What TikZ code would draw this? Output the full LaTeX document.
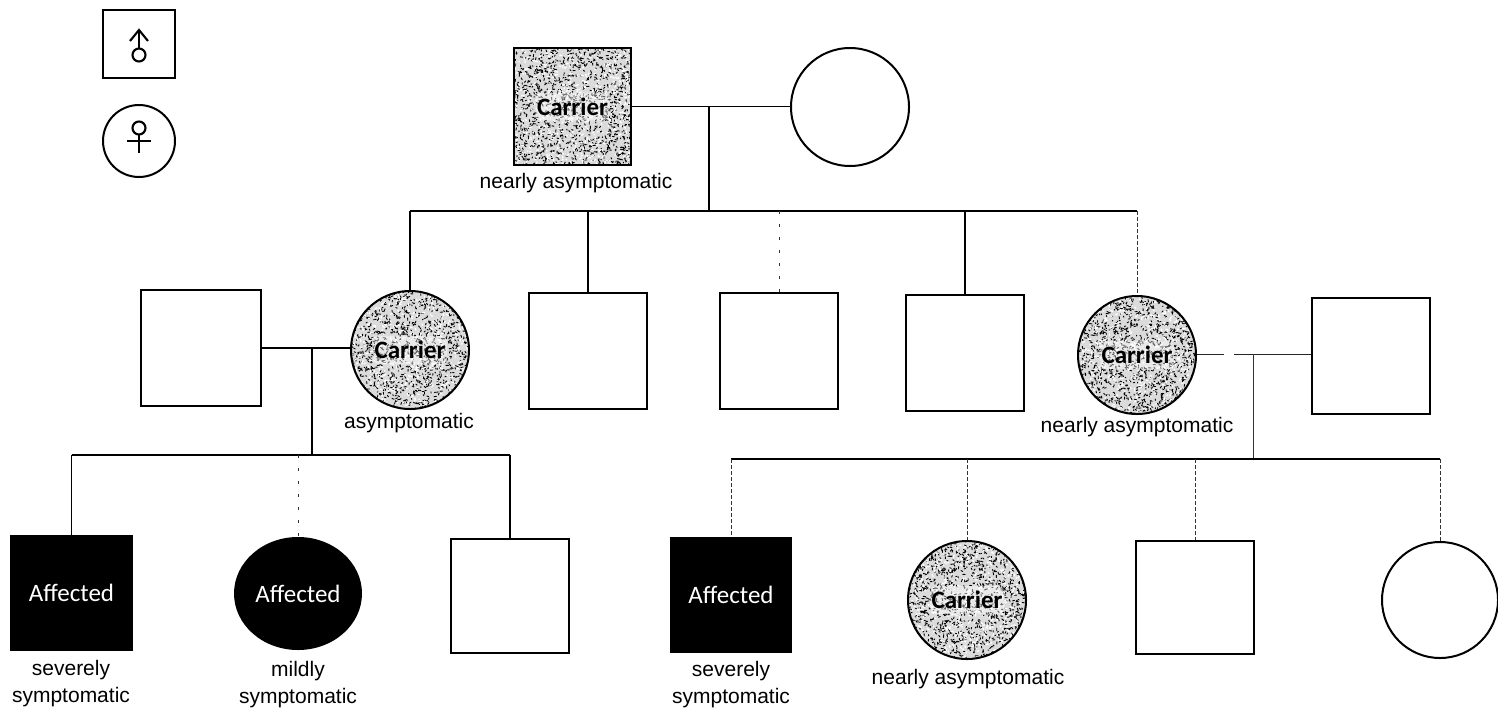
\documentclass[tikz,border=0pt]{standalone}
\usepackage{fontspec}
\setmainfont{Liberation Sans}
\newfontfamily\carlitofont{Carlito}
\usetikzlibrary{shapes.geometric,calc}
\pgfmathsetseed{4711}
\newcommand{\stipplefill}[1]{%
  \fill[black!14] ($(path picture bounding box.center)+(-70,-70)$) rectangle ($(path picture bounding box.center)+(70,70)$);
  \foreach \i in {1,...,#1}{%
    \draw[line width=.9pt,black,line cap=round]
      ($(path picture bounding box.center)+({60*rand},{60*rand})$) -- ++({360*rnd}:{.6+2*rnd});
  }%
  \foreach \i in {1,...,500}{%
    \draw[line width=1.2pt,white,line cap=round]
      ($(path picture bounding box.center)+({60*rand},{60*rand})$) -- ++({360*rnd}:{.6+2*rnd});
  }%
  \fill[white,opacity=.4,rounded corners=6pt] ($(path picture bounding box.center)+(-37,-14)$) rectangle ($(path picture bounding box.center)+(37,14)$);
}
\tikzset{
  x=1pt,y=-1pt,
  sq/.style={draw=black,line width=2pt,rectangle,minimum width=118pt,minimum height=116pt,inner sep=0pt},
  ci/.style={draw=black,line width=2pt,circle,minimum size=118pt,inner sep=0pt},
  carrier/.style={path picture={\stipplefill{1300}},font=\carlitofont\bfseries\fontsize{25}{25}\selectfont},
  affected/.style={fill=black,text=white,font=\carlitofont\fontsize{25}{25}\selectfont},
  lab/.style={font=\fontsize{21}{27}\selectfont,align=center,inner sep=0pt},
  link/.style={draw=black,line width=1.2pt},
  faint/.style={draw=black!80,line width=1pt,dash pattern=on 3.5pt off 2.5pt},
  dotty/.style={draw=black!80,line width=1pt,dash pattern=on 3pt off 10pt},
  glyph/.style={draw=black,line width=2.1pt},
}
\begin{document}
\begin{tikzpicture}
\useasboundingbox (0,0) rectangle (1498,710);
% legend
\node[sq,minimum width=72pt,minimum height=68pt] (legm) at (139,44) {};
\node[ci,minimum size=72pt] (legf) at (139,141) {};
\draw[glyph] ($(legm.center)+(0,11)$) circle (6.5);
\draw[glyph] ($(legm.center)+(0,4.5)$) -- ($(legm.center)+(0,-14)$);
\draw[glyph] ($(legm.center)+(-9,-3)$) -- ($(legm.center)+(0,-14)$) -- ($(legm.center)+(9,-3)$);
\draw[glyph] ($(legf.center)+(0,-13)$) circle (6.5);
\draw[glyph] ($(legf.center)+(0,-6.5)$) -- ($(legf.center)+(0,12)$);
\draw[glyph] ($(legf.center)+(-12,0)$) -- ($(legf.center)+(12,0)$);
% generation I
\node[sq,carrier,minimum width=117pt,minimum height=117pt] (g1m) at (572.5,106.5) {Carrier};
\node[ci] (g1f) at (850,107) {};
\node[lab] (g1l) at (576,183) {nearly asymptomatic};
% generation II
\node[sq,minimum width=120pt] (a) at (201,348) {};
\node[ci,carrier] (b) at (410,350) {Carrier};
\node[sq] (c) at (588,350.5) {};
\node[sq] (d) at (779,351) {};
\node[sq] (e) at (965,353) {};
\node[ci,carrier] (f) at (1137,355) {Carrier};
\node[sq] (g) at (1371,355.5) {};
\node[lab] (bl) at (409,423) {asymptomatic};
\node[lab] (fl) at (1137,427) {nearly asymptomatic};
% generation III
\node[sq,affected,minimum width=121pt,minimum height=114pt] (h) at (71.5,593) {Affected};
\node[ellipse,affected,minimum width=128pt,minimum height=113pt,inner sep=0pt] (i) at (298,593.5) {Affected};
\node[sq,minimum height=114pt] (j) at (510,596) {};
\node[sq,affected,minimum width=120pt,minimum height=114pt] (k) at (731,595) {Affected};
\node[ci,carrier] (l) at (967,600) {Carrier};
\node[sq,minimum height=113pt] (m) at (1195,597.5) {};
\node[ci,minimum size=116pt] (n) at (1440,600) {};
\node[lab] (hl) at (71,683.5) {severely\\symptomatic};
\node[lab] (il) at (298,685) {mildly\\symptomatic};
\node[lab] (kl) at (731,684.5) {severely\\symptomatic};
\node[lab] (ll) at (968,679) {nearly asymptomatic};
% junctions
\coordinate (j1) at (709,106.5);
\coordinate (s1) at (709,211);
\coordinate (j2) at (312,348);
\coordinate (s2) at (312,455);
\coordinate (j3) at (1253,354);
\coordinate (s3) at (1253,459);
\coordinate (gapa) at (1224,354);
\coordinate (gapb) at (1234,354);
% connectors
\draw[link] (g1m.east) -- (g1m.east -| g1f.west);
\draw[link] (j1) -- (s1);
\draw[link] (b.north |- s1) -- (f.north |- s1);
\draw[link] (b.north |- s1) -- (b.north);
\draw[link] (c.north |- s1) -- (c.north);
\draw[dotty] (d.north |- s1) -- (d.north);
\draw[link] (e.north |- s1) -- (e.north);
\draw[faint] (f.north |- s1) -- (f.north);
\draw[link] (a.east) -- (a.east -| b.west);
\draw[link] (j2) -- (s2);
\draw[link] (h.north |- s2) -- (j.north |- s2);
\draw[link] (h.north |- s2) -- (h.north);
\draw[dotty] (i.north |- s2) -- (i.north);
\draw[link] (j.north |- s2) -- (j.north);
\draw[link,line width=1pt,black!85] (f.east |- gapa) -- (gapa);
\draw[link,line width=1pt,black!85] (gapb) -- (gapb -| g.west);
\draw[link,line width=1pt,black!80] (j3) -- (s3);
\draw[link] (k.north |- s3) -- (n.north |- s3);
\draw[faint] (k.north |- s3) -- (k.north);
\draw[faint] (l.north |- s3) -- (l.north);
\draw[faint] (m.north |- s3) -- (m.north);
\draw[faint] (n.north |- s3) -- (n.north);
\end{tikzpicture}
\end{document}
